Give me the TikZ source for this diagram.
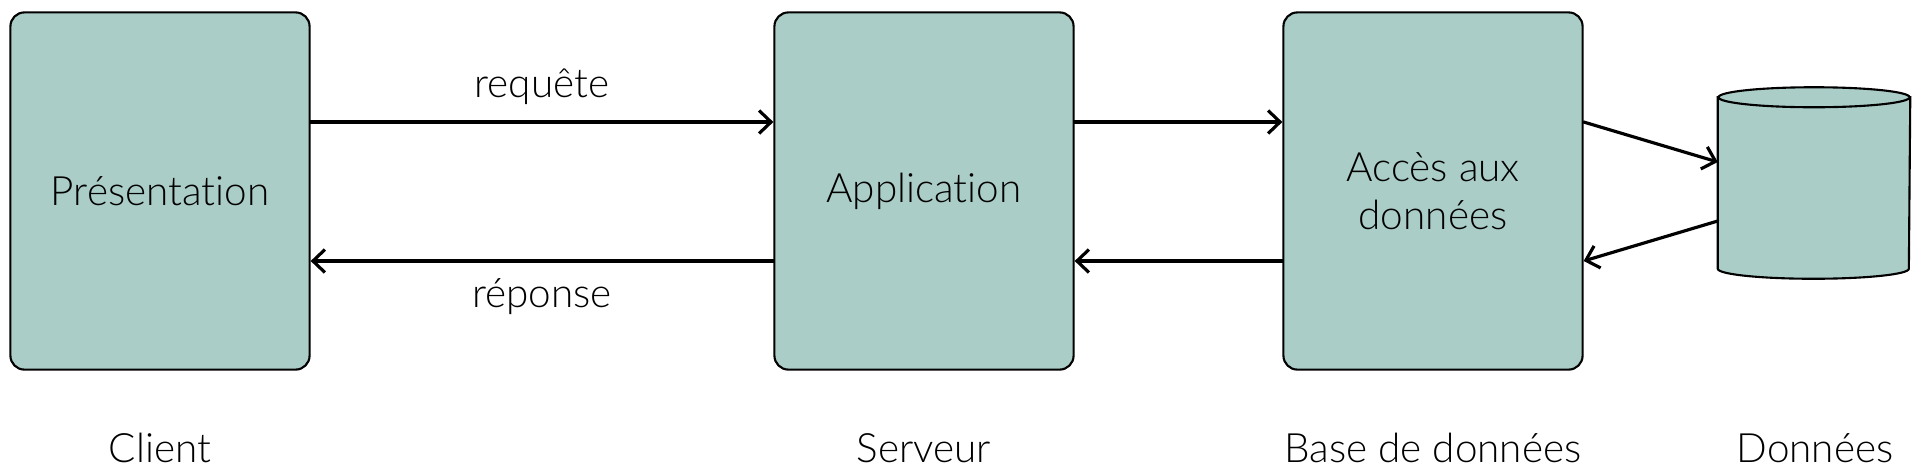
\documentclass[tikz,border=0pt]{standalone}
\usepackage{fontspec}
\setmainfont{Lato}[UprightFont={* Light}, Ligatures={NoCommon}]
\usetikzlibrary{arrows.meta,calc}
\definecolor{vertgris}{HTML}{AACDC7}
\tikzset{
	couche/.style={draw, fill=vertgris, line width=0.6pt, rounded corners=0.14cm,
		minimum width=2.99cm, minimum height=3.57cm, align=center},
	fleche/.style={-{Straight Barb[length=0.12cm,width=0.23cm]}, line width=0.9pt, line cap=round},
	legende/.style={anchor=base}
}

\begin{document}
\begin{tikzpicture}[x=0.01cm, y=-0.01cm, font=\fontsize{11.5}{13.8}\selectfont]
		\useasboundingbox (0,0) rectangle (1921,475);
		\def\haut{122}
		\def\bas{261}
		\coordinate (haut) at (0,\haut);
		\coordinate (bas) at (0,\bas);
		% les trois couches
		\node[couche] (pres) at (160,191) {Présentation};
		\node[couche] (appli) at (924,191) {Application};
		\node[couche] (acces) at (1433,191) {Accès aux\\données};
		% le cylindre
		\node[minimum width=1.91cm, minimum height=1.7cm, inner sep=0pt] (bdd) at (1814,183) {};
		\draw[fill=vertgris, line width=0.6pt] 
			(bdd.north west) -- (bdd.south west) 
			arc[start angle=180, end angle=360, x radius=0.955cm, y radius=0.1cm] 
			-- (bdd.north east) -- cycle;
		\draw[fill=vertgris, line width=0.6pt] (bdd.north) ellipse[x radius=0.955cm, y radius=0.1cm];
		% les flèches
		\draw[fleche] (pres.east |- haut) -- node[above=0.04cm] (req) {requête} (appli.west |- haut);
		\draw[fleche] (appli.west |- bas) -- node[below=0.04cm] (rep) {réponse} (pres.east |- bas);
		\draw[fleche] (appli.east |- haut) -- (acces.west |- haut);
		\draw[fleche] (acces.west |- bas) -- (appli.east |- bas);
		\draw[fleche] (acces.east |- haut) -- ($(bdd.west)+(0,-21)$);
		\draw[fleche] ($(bdd.west)+(0,38)$) -- (acces.east |- bas);
		% les légendes
		\node[legende] (client) at (160,462) {Client};
		\node[legende] (serveur) at (924,462) {Serveur};
		\node[legende] (base) at (1433,462) {Base de données};
		\node[legende] (donnees) at (1815,462) {Données};
	\end{tikzpicture}
\end{document}
